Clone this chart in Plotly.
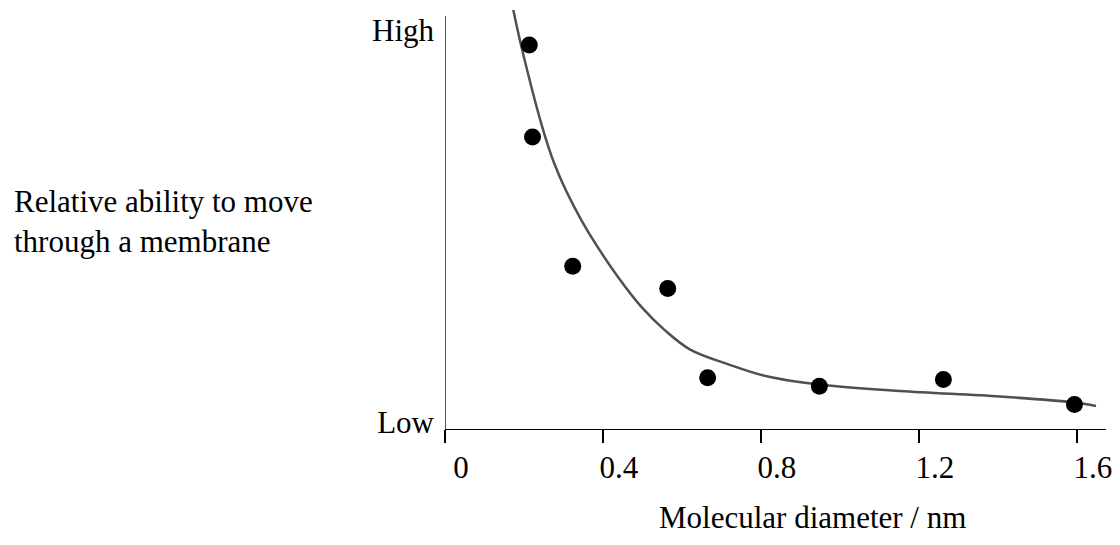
import plotly.graph_objects as go

# Data
diameter_nm = [0.2135, 0.2216, 0.3234, 0.564, 0.665, 0.948, 1.262, 1.594]
relative_ability = [0.930, 0.707, 0.394, 0.340, 0.124, 0.1035, 0.1197, 0.0593]

curve_x = [0.1730, 0.1925, 0.2484, 0.2760, 0.3054, 0.3449, 0.3859, 0.4376, 0.4968,
           0.5551, 0.6209, 0.7197, 0.8146, 0.9478, 1.1522, 1.4054, 1.5903, 1.6485]
curve_y = [1.0145, 0.9299, 0.7243, 0.6445, 0.5792, 0.5066, 0.4414, 0.3688, 0.2963,
           0.2406, 0.1923, 0.1560, 0.1277, 0.1076, 0.0919, 0.0786, 0.0646, 0.0556]

x_tick_vals = [0, 0.4, 0.8, 1.2, 1.6]
x_tick_text = ["0", "0.4", "0.8", "1.2", "1.6"]
y_tick_vals = [0.0175, 0.965]
y_tick_text = ["Low", "High"]

FONT = "Liberation Serif, Times New Roman, serif"
FS = 31

fig = go.Figure()
fig.add_trace(go.Scatter(
    x=curve_x, y=curve_y, mode="lines",
    line=dict(color="#505050", width=2.5, shape="spline", smoothing=1.0),
    showlegend=False, hoverinfo="skip"))
fig.add_trace(go.Scatter(
    x=diameter_nm, y=relative_ability, mode="markers",
    marker=dict(color="black", size=17),
    showlegend=False))

# y-axis line (drawn as a shape so the curve may rise above its top)
fig.add_shape(type="line", xref="x", yref="y", x0=0, x1=0, y0=0, y1=1.0,
              line=dict(color="black", width=1.3))

fig.add_annotation(text="Relative ability to move<br>through a membrane",
                   xref="paper", yref="paper", x=(12 - 445) / 661, y=0.489,
                   xanchor="left", yanchor="middle", align="left", showarrow=False,
                   font=dict(family=FONT, size=FS, color="black"))
fig.add_annotation(text="Molecular diameter / nm",
                   xref="paper", yref="paper", x=(812.9 - 445) / 661, y=-0.2085,
                   xanchor="center", yanchor="middle", showarrow=False,
                   font=dict(family=FONT, size=FS, color="black"))

fig.update_layout(
    width=1120, height=545,
    margin=dict(l=445, r=14, t=5, b=115.5, pad=0),
    paper_bgcolor="white", plot_bgcolor="white",
    font=dict(family=FONT, size=FS, color="black"),
    xaxis=dict(range=[0, 1.6738], showgrid=False, zeroline=False,
               showline=True, linecolor="black", linewidth=1.3,
               ticks="outside", ticklen=13, tickwidth=1.5, tickcolor="black",
               tickvals=x_tick_vals, ticktext=x_tick_text,
               ticklabelshift=16, ticklabelstandoff=-2,
               tickfont=dict(family=FONT, size=FS, color="black")),
    yaxis=dict(range=[0, 1.0266], showgrid=False, zeroline=False,
               showline=False, ticks="",
               tickvals=y_tick_vals, ticktext=y_tick_text,
               ticklabelstandoff=10,
               tickfont=dict(family=FONT, size=FS, color="black")),
)

fig.write_html("out.html", config={"displayModeBar": False},
               post_script="document.body.style.margin='0px';document.body.style.overflow='hidden';")
